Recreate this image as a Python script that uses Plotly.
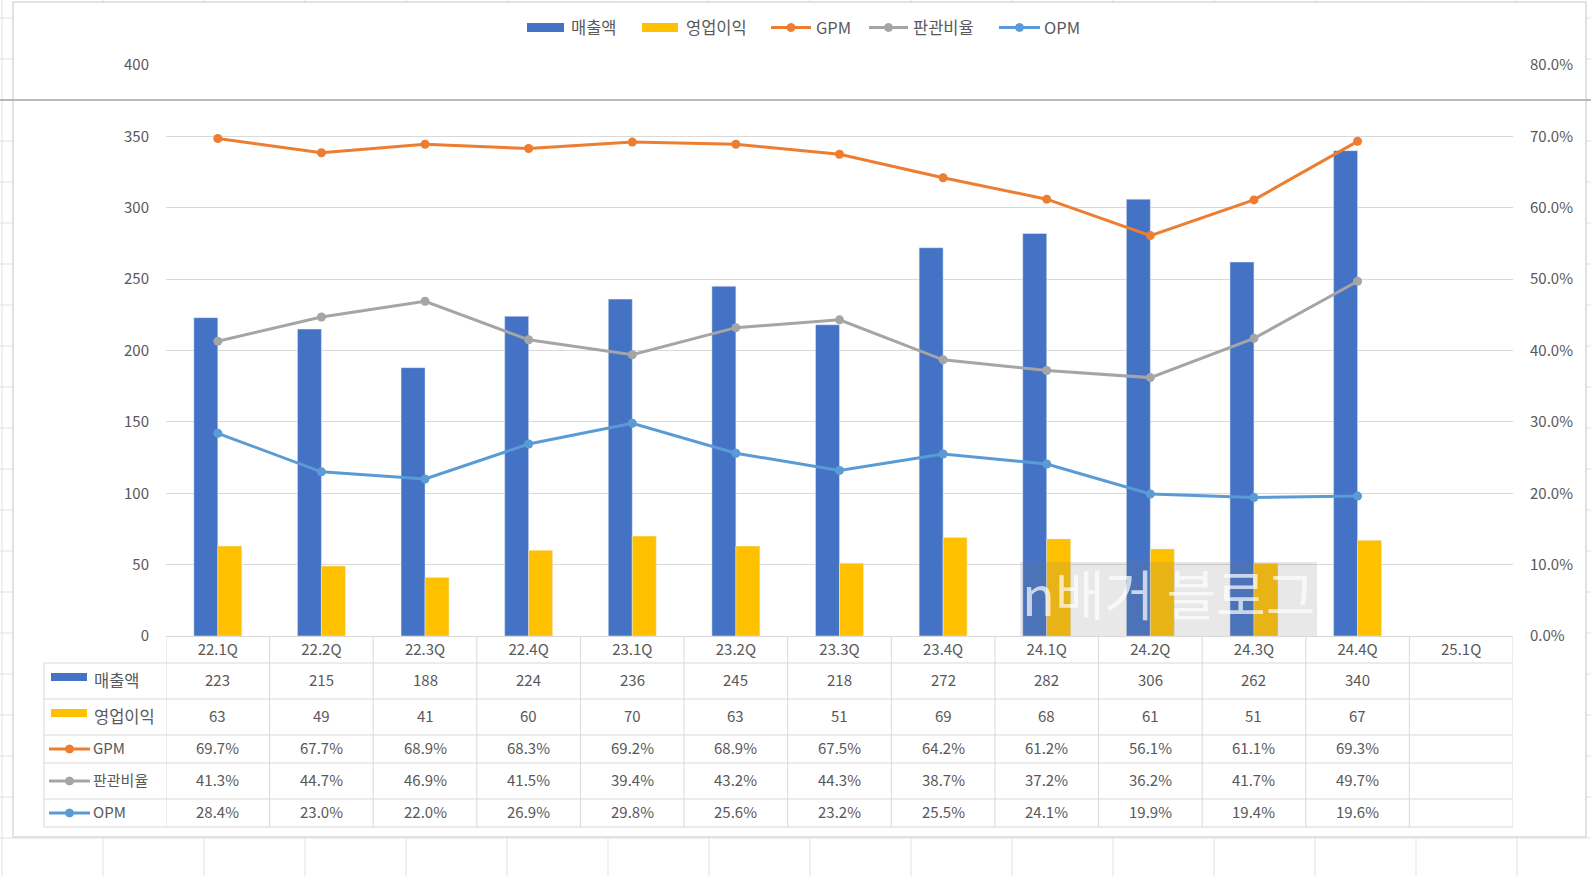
import plotly.graph_objects as go

# ---------------- data ----------------
quarters = ["22.1Q", "22.2Q", "22.3Q", "22.4Q", "23.1Q", "23.2Q", "23.3Q",
            "23.4Q", "24.1Q", "24.2Q", "24.3Q", "24.4Q", "25.1Q"]
revenue = [223, 215, 188, 224, 236, 245, 218, 272, 282, 306, 262, 340]
op_profit = [63, 49, 41, 60, 70, 63, 51, 69, 68, 61, 51, 67]
gpm = [69.7, 67.7, 68.9, 68.3, 69.2, 68.9, 67.5, 64.2, 61.2, 56.1, 61.1, 69.3]
sga_ratio = [41.3, 44.7, 46.9, 41.5, 39.4, 43.2, 44.3, 38.7, 37.2, 36.2, 41.7, 49.7]
opm = [28.4, 23.0, 22.0, 26.9, 29.8, 25.6, 23.2, 25.5, 24.1, 19.9, 19.4, 19.6]
series_names = ["매출액", "영업이익", "GPM", "판관비율", "OPM"]

# ---------------- geometry / style ----------------
W, H = 1591, 876
PL, PR, PT, PB = 166, 1513, 65, 636
FONT = "Noto Sans CJK KR"
TXT = "#595959"
GRID = "#D9D9D9"
C_REV, C_OP, C_GPM, C_SGA, C_OPM = "#4472C4", "#FFC000", "#ED7D31", "#A5A5A5", "#5B9BD5"
colors = [C_REV, C_OP, C_GPM, C_SGA, C_OPM]
kinds = ["bar", "bar", "line", "line", "line"]


def px(x):
    return (x - PL) / (PR - PL)


def py(y):
    return (PB - y) / (PB - PT)


n = len(revenue)
xq = quarters[:n]

fig = go.Figure()
fig.add_bar(x=xq, y=revenue, name=series_names[0], marker_color=C_REV)
fig.add_bar(x=xq, y=op_profit, name=series_names[1], marker_color=C_OP)
for name, vals, col in zip(series_names[2:], [gpm, sga_ratio, opm], colors[2:]):
    fig.add_scatter(x=xq, y=[v / 100 for v in vals], name=name, yaxis="y2",
                    mode="lines+markers", line=dict(color=col, width=3),
                    marker=dict(size=9, color=col))

shapes = []
annotations = []


def key(x0, x1, yc, kind, col, h=8):
    if kind == "bar":
        shapes.append(dict(type="rect", xref="paper", yref="paper", layer="above",
                           x0=px(x0), x1=px(x1), y0=py(yc - h / 2), y1=py(yc + h / 2),
                           fillcolor=col, line=dict(width=0)))
    else:
        xm = (x0 + x1) / 2
        shapes.append(dict(type="line", xref="paper", yref="paper", layer="above",
                           x0=px(x0), x1=px(x1), y0=py(yc), y1=py(yc),
                           line=dict(color=col, width=3)))
        shapes.append(dict(type="circle", xref="paper", yref="paper", layer="above",
                           x0=px(xm - 4), x1=px(xm + 4), y0=py(yc - 4), y1=py(yc + 4),
                           fillcolor=col, line=dict(color=col, width=1)))


# spreadsheet grid behind the chart
for k in range(17):
    x = 2 + 101 * k
    shapes.append(dict(type="line", xref="paper", yref="paper", layer="below",
                       x0=px(x), x1=px(x), y0=py(0), y1=py(H),
                       line=dict(color="#E1E1E1", width=1)))
for k in range(22):
    y = 18 + 41 * k
    shapes.append(dict(type="line", xref="paper", yref="paper", layer="below",
                       x0=px(0), x1=px(W), y0=py(y), y1=py(y),
                       line=dict(color="#E1E1E1", width=1)))
# chart area
shapes.append(dict(type="rect", xref="paper", yref="paper", layer="below",
                   x0=px(13), x1=px(1586), y0=py(2), y1=py(837),
                   fillcolor="white", line=dict(color=GRID, width=1.5)))
# freeze-pane line
shapes.append(dict(type="line", xref="paper", yref="paper", layer="above",
                   x0=px(0), x1=px(W), y0=py(100), y1=py(100),
                   line=dict(color="#A6A6A6", width=1.5)))

# ---------------- legend (Excel style) ----------------
legend_keys = [(527, 564, 569), (642, 678, 684), (771, 811, 814), (869, 908, 911), (999, 1040, 1042)]
for (k0, k1, tx), name, kind, col in zip(legend_keys, series_names, kinds, colors):
    key(k0, k1, 27.5, kind, col, h=9)
    annotations.append(dict(text=name, xref="paper", yref="paper", x=px(tx), y=py(27.5),
                            xanchor="left", yanchor="middle", showarrow=False,
                            font=dict(family=FONT, size=16.5, color=TXT)))

# ---------------- data table ----------------
row_bounds = [636, 663, 699, 735, 763, 799, 827]
row_centers = [681, 717, 749, 781, 813]
TEXT_SHIFT = 1.5
for k in range(len(quarters) + 1):
    shapes.append(dict(type="line", xref="x", yref="paper", layer="above",
                       x0=k - 0.5, x1=k - 0.5, y0=py(636), y1=py(827),
                       line=dict(color=GRID, width=1)))
shapes.append(dict(type="line", xref="paper", yref="paper", layer="above",
                   x0=px(44), x1=px(44), y0=py(663), y1=py(827),
                   line=dict(color=GRID, width=1)))
for yb in row_bounds[1:]:
    shapes.append(dict(type="line", xref="paper", yref="paper", layer="above",
                       x0=px(44), x1=px(PR), y0=py(yb), y1=py(yb),
                       line=dict(color=GRID, width=1)))

table_texts = [
    [str(v) for v in revenue],
    [str(v) for v in op_profit],
    [f"{v:.1f}%" for v in gpm],
    [f"{v:.1f}%" for v in sga_ratio],
    [f"{v:.1f}%" for v in opm],
]
cell_font = dict(family=FONT, size=15, color=TXT)
for label, texts, kind, col, yc in zip(series_names, table_texts, kinds, colors, row_centers):
    if kind == "bar":
        key(51, 87, yc - 4, kind, col, h=8)
        lab_x = 92
    else:
        key(49, 90, yc, kind, col)
        lab_x = 91
    annotations.append(dict(text=label, xref="paper", yref="paper", x=px(lab_x),
                            y=py(yc - TEXT_SHIFT),
                            xanchor="left", yanchor="middle", showarrow=False,
                            font=dict(family=FONT, size=16.5 if kind == "bar" else 15, color=TXT)))
    for q, t in zip(quarters, texts):
        annotations.append(dict(text=t, xref="x", yref="paper", x=q, y=py(yc - TEXT_SHIFT),
                                xanchor="center", yanchor="middle", showarrow=False,
                                font=cell_font))

# watermark
shapes.append(dict(type="rect", xref="paper", yref="paper", layer="above",
                   x0=px(1020), x1=px(1317), y0=py(562), y1=py(636),
                   fillcolor="rgba(120,120,120,0.17)", line=dict(width=0)))
annotations.append(dict(text="n배거 블로그", xref="paper", yref="paper",
                        x=px(1168), y=py(592), xanchor="center", yanchor="middle",
                        showarrow=False,
                        font=dict(family=FONT, size=54, color="rgba(255,255,255,0.7)")))

fig.update_layout(
    width=W, height=H,
    margin=dict(l=PL, r=W - PR, t=PT, b=H - PB, pad=0),
    paper_bgcolor="white", plot_bgcolor="white",
    font=dict(family=FONT, size=15, color=TXT),
    barmode="group", bargap=0.537, bargroupgap=0,
    showlegend=False,
    xaxis=dict(type="category", categoryorder="array", categoryarray=quarters,
               range=[-0.5, len(quarters) - 0.5], showgrid=False, zeroline=False,
               showline=True, linecolor=GRID, linewidth=1, ticks="",
               tickfont=dict(family=FONT, size=15, color=TXT), ticklabelstandoff=0,
               fixedrange=True),
    yaxis=dict(range=[0, 400], dtick=50, showgrid=True, gridcolor=GRID, gridwidth=1,
               zeroline=False, showline=False, ticks="",
               tickfont=dict(family=FONT, size=15, color=TXT), ticklabelstandoff=16),
    yaxis2=dict(range=[0, 0.8], dtick=0.1, tickformat=".1%", overlaying="y", side="right",
                showgrid=False, zeroline=False, showline=False, ticks="",
                tickfont=dict(family=FONT, size=15, color=TXT), ticklabelstandoff=16),
    shapes=shapes,
    annotations=annotations,
)

fig.write_html("out.html", config={"displayModeBar": False},
               post_script="document.body.style.margin='0';document.body.style.overflow='hidden';")
